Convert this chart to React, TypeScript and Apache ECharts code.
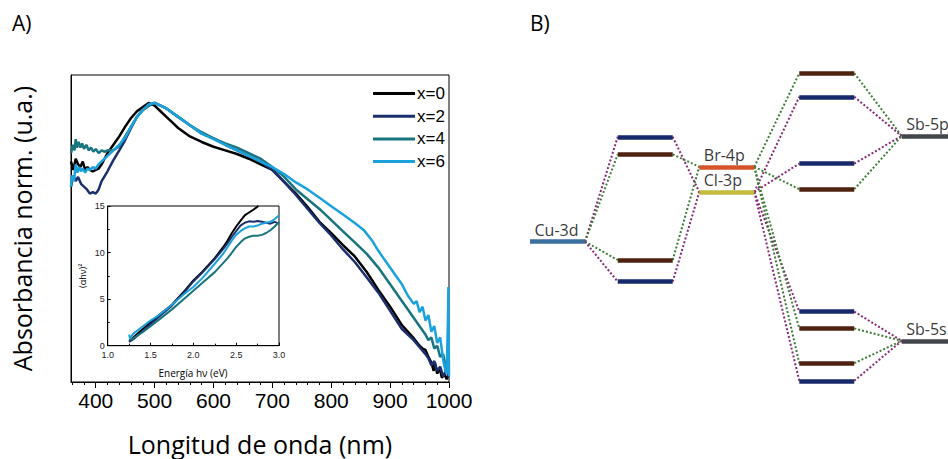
import React, { useEffect, useRef } from "react";
import * as echarts from "echarts";

// ---------- Panel A: main absorbance spectra (wavelength nm, normalized absorbance) ----------
const seriesNames = ["x=0", "x=2", "x=4", "x=6"];
const seriesColors = ["#000000", "#1b2f6e", "#18747e", "#1ba1dc"];

const absX0 = [
  [358, 0.79], [362, 0.76], [366, 0.8], [370, 0.78], [374, 0.77], [378, 0.79], [382, 0.76], [386, 0.77],
  [390, 0.76], [395, 0.755], [400, 0.76], [405, 0.765], [410, 0.78], [415, 0.8], [420, 0.82], [430, 0.85],
  [440, 0.88], [450, 0.915], [460, 0.946], [470, 0.97], [480, 0.985], [490, 1.0], [500, 0.99], [510, 0.97],
  [520, 0.95], [530, 0.93], [540, 0.91], [550, 0.895], [560, 0.88], [580, 0.86], [600, 0.843], [620, 0.83],
  [640, 0.817], [660, 0.8], [680, 0.78], [700, 0.76], [720, 0.717], [740, 0.675], [760, 0.627], [780, 0.574],
  [800, 0.533], [820, 0.49], [840, 0.45], [860, 0.395], [880, 0.33], [900, 0.27], [920, 0.204], [940, 0.157],
  [950, 0.13], [955, 0.12], [960, 0.115], [965, 0.09], [970, 0.07], [974, 0.04], [976, 0.07], [980, 0.03],
  [984, 0.05], [988, 0.015], [992, 0.03], [996, 0.01], [1000, 0.03],
];
const absX2 = [
  [358, 0.7], [362, 0.74], [366, 0.72], [370, 0.735], [375, 0.71], [380, 0.7], [385, 0.69], [390, 0.675],
  [395, 0.68], [400, 0.675], [405, 0.69], [410, 0.72], [420, 0.755], [430, 0.795], [440, 0.83], [450, 0.867],
  [460, 0.91], [470, 0.95], [480, 0.975], [490, 0.99], [500, 1.0], [510, 0.99], [520, 0.98], [540, 0.95],
  [560, 0.92], [580, 0.89], [600, 0.873], [620, 0.85], [640, 0.83], [660, 0.81], [680, 0.79], [700, 0.76],
  [720, 0.717], [740, 0.67], [760, 0.62], [780, 0.57], [800, 0.525], [820, 0.475], [840, 0.43], [860, 0.375],
  [880, 0.32], [900, 0.255], [920, 0.19], [940, 0.15], [950, 0.125], [960, 0.1], [965, 0.085], [970, 0.06],
  [975, 0.075], [980, 0.04], [985, 0.055], [990, 0.02], [995, 0.04], [1000, 0.02],
];
const absX4 = [
  [358, 0.82], [361, 0.85], [364, 0.83], [366, 0.87], [368, 0.84], [371, 0.86], [374, 0.84], [377, 0.855],
  [380, 0.835], [384, 0.85], [388, 0.83], [392, 0.84], [396, 0.825], [400, 0.835], [405, 0.82], [410, 0.83],
  [415, 0.825], [420, 0.83], [430, 0.83], [440, 0.845], [450, 0.88], [460, 0.915], [470, 0.95], [480, 0.975],
  [490, 0.99], [500, 1.0], [510, 0.99], [520, 0.98], [540, 0.95], [560, 0.92], [580, 0.895], [600, 0.873],
  [620, 0.855], [640, 0.84], [660, 0.82], [680, 0.8], [700, 0.77], [720, 0.735], [740, 0.69], [760, 0.655],
  [780, 0.62], [800, 0.58], [820, 0.54], [840, 0.5], [860, 0.46], [880, 0.41], [900, 0.35], [920, 0.29],
  [940, 0.23], [950, 0.2], [960, 0.17], [965, 0.15], [970, 0.16], [975, 0.12], [980, 0.13], [985, 0.09],
  [990, 0.1], [995, 0.05], [1000, 0.08],
];
const absX6 = [
  [358, 0.7], [360, 0.74], [363, 0.72], [366, 0.78], [369, 0.75], [372, 0.77], [375, 0.755], [378, 0.765],
  [382, 0.75], [386, 0.765], [390, 0.76], [395, 0.77], [400, 0.765], [405, 0.78], [410, 0.79], [420, 0.81],
  [430, 0.83], [440, 0.85], [450, 0.875], [460, 0.915], [470, 0.95], [480, 0.975], [490, 0.995], [500, 1.0],
  [510, 0.99], [520, 0.98], [540, 0.95], [560, 0.92], [580, 0.89], [600, 0.87], [620, 0.85], [640, 0.83],
  [660, 0.81], [680, 0.79], [700, 0.77], [720, 0.745], [740, 0.715], [760, 0.69], [780, 0.66], [800, 0.63],
  [820, 0.6], [840, 0.57], [855, 0.545], [870, 0.505], [880, 0.47], [890, 0.44], [900, 0.41], [910, 0.38],
  [920, 0.35], [930, 0.31], [940, 0.28], [945, 0.29], [950, 0.25], [955, 0.27], [960, 0.22], [965, 0.24],
  [970, 0.18], [975, 0.2], [980, 0.14], [985, 0.16], [990, 0.08], [994, 0.04], [996, 0.03], [998, 0.2],
  [999, 0.34], [1000, 0.02],
];
const mainData = [absX0, absX2, absX4, absX6];

const xMajorTicks = [400, 500, 600, 700, 800, 900, 1000];
const xMinorTicks = [360, 380, 420, 440, 460, 480, 520, 540, 560, 580, 620, 640, 660, 680, 720, 740, 760, 780, 820, 840, 860, 880, 920, 940, 960, 980];

// ---------- Inset: Tauc plot (energy eV, (αhν)²) ----------
const taucX0 = [
  [1.25, 0.5], [1.3, 0.9], [1.4, 1.7], [1.5, 2.5], [1.6, 3.3], [1.75, 4.4], [1.9, 5.9], [2.0, 7.0], [2.1, 7.9],
  [2.25, 9.4], [2.35, 10.6], [2.4, 11.3], [2.45, 12.1], [2.5, 12.8], [2.55, 13.4], [2.6, 14.0], [2.65, 14.3],
  [2.7, 14.6], [2.76, 15.0],
];
const taucX2 = [
  [1.25, 0.4], [1.3, 0.7], [1.4, 1.5], [1.5, 2.3], [1.6, 3.1], [1.75, 4.3], [1.9, 5.8], [2.0, 6.9], [2.1, 7.8],
  [2.25, 9.3], [2.35, 10.4], [2.4, 11.0], [2.45, 11.7], [2.5, 12.3], [2.55, 12.9], [2.6, 13.2], [2.65, 13.35],
  [2.7, 13.3], [2.75, 13.4], [2.8, 13.3], [2.85, 13.2], [2.9, 13.1], [2.95, 13.3], [3.0, 13.1],
];
const taucX4 = [
  [1.25, 0.6], [1.3, 0.8], [1.4, 1.4], [1.5, 2.1], [1.6, 2.8], [1.75, 3.9], [1.9, 5.1], [2.0, 5.9], [2.1, 6.7],
  [2.25, 7.9], [2.35, 8.9], [2.4, 9.4], [2.45, 10.0], [2.5, 10.6], [2.55, 11.1], [2.6, 11.5], [2.65, 11.7],
  [2.7, 11.8], [2.75, 11.8], [2.8, 11.9], [2.85, 12.1], [2.9, 12.4], [2.95, 12.8], [3.0, 13.3],
];
const taucX6 = [
  [1.25, 1.2], [1.26, 0.8], [1.3, 1.3], [1.4, 2.0], [1.5, 2.7], [1.6, 3.3], [1.75, 4.4], [1.9, 5.6], [2.0, 6.3],
  [2.1, 7.2], [2.25, 8.8], [2.35, 9.9], [2.4, 10.6], [2.45, 11.3], [2.5, 11.9], [2.55, 12.3], [2.6, 12.6],
  [2.65, 12.8], [2.7, 12.8], [2.75, 12.9], [2.8, 13.1], [2.85, 13.2], [2.9, 13.3], [2.95, 13.6], [3.0, 14.0],
];
const insetData = [taucX0, taucX2, taucX4, taucX6];

// ---------- Panel B: energy-level diagram ----------
const columnStart = [0, 1.595, 3.078, 4.896, 6.758]; // left end of each column (level width = 1)
const atomNames = ["Cu-3d", "Br-4p", "Cl-3p", "Sb-5p", "Sb-5s"];
const atomColumn = [0, 2, 2, 4, 4];
const atomEnergy = [3.96, 5.83, 5.2, 6.6, 1.48];
const atomColors = ["#3a6f9f", "#d4552a", "#c2bc3c", "#41464c", "#41464c"];

const moColumn = [1, 1, 1, 1, 3, 3, 3, 3, 3, 3, 3, 3];
const moEnergy = [6.58, 6.14, 3.5, 2.96, 8.17, 7.58, 5.91, 5.27, 2.21, 1.79, 0.92, 0.48];
const moHalide = ["Cl", "Br", "Br", "Cl", "Br", "Cl", "Cl", "Br", "Cl", "Br", "Br", "Cl"];
const moLeftAtom = [0, 0, 0, 0, 1, 2, 2, 1, 2, 1, 1, 2];
const moRightAtom = [2, 1, 1, 2, 3, 3, 3, 3, 4, 4, 4, 4];

const moColor: Record<string, string> = { Cl: "#17296b", Br: "#4f2210" };
const linkColor: Record<string, string> = { Cl: "#8a2878", Br: "#3d7d35" };

export default function App() {
  const ref = useRef<HTMLDivElement>(null);

  useEffect(() => {
    if (!ref.current) return;
    const chart = echarts.init(ref.current, undefined, { renderer: "svg" });

    const levelData: any[] = [];
    atomNames.forEach((n, i) => {
      const x0 = columnStart[atomColumn[i]];
      levelData.push({
        coords: [[x0, atomEnergy[i]], [x0 + 1, atomEnergy[i]]],
        lineStyle: { color: atomColors[i] },
      });
    });
    moEnergy.forEach((e, i) => {
      const x0 = columnStart[moColumn[i]];
      levelData.push({
        coords: [[x0, e], [x0 + 1, e]],
        lineStyle: { color: moColor[moHalide[i]] },
      });
    });

    const linkData: any[] = [];
    moEnergy.forEach((e, i) => {
      const x0 = columnStart[moColumn[i]];
      const la = moLeftAtom[i];
      const ra = moRightAtom[i];
      const c = linkColor[moHalide[i]];
      linkData.push({
        coords: [[columnStart[atomColumn[la]] + 1, atomEnergy[la]], [x0, e]],
        lineStyle: { color: c },
      });
      linkData.push({
        coords: [[x0 + 1, e], [columnStart[atomColumn[ra]], atomEnergy[ra]]],
        lineStyle: { color: c },
      });
    });

    const labelData = atomNames.map((n, i) => ({
      name: n,
      value: [columnStart[atomColumn[i]], atomEnergy[i]],
    }));

    const option: any = {
      animation: false,
      backgroundColor: "#ffffff",
      graphic: [
        { type: "text", left: 12, top: 12, style: { text: "A)", fontSize: 21, fontFamily: "Open Sans", fill: "#000" } },
        { type: "text", left: 530, top: 12, style: { text: "B)", fontSize: 21, fontFamily: "Open Sans", fill: "#000" } },
        {
          type: "text", x: 260, y: 444, z: 10,
          style: { text: "Longitud de onda (nm)", fontSize: 25, fontFamily: "Open Sans", fill: "#000", align: "center", verticalAlign: "middle" },
        },
        {
          type: "text", x: 193, y: 373, z: 10,
          style: { text: "Energía hν (eV)", fontSize: 10, fontFamily: "Open Sans", fill: "#000", align: "center", verticalAlign: "middle" },
        },
      ],
      legend: {
        data: seriesNames,
        orient: "vertical",
        left: 368,
        top: 80,
        icon: "rect",
        itemWidth: 42,
        itemHeight: 3,
        itemGap: 5.7,
        textStyle: { fontSize: 17, fontFamily: "Liberation Sans", color: "#000", padding: [0, 0, 0, -3] },
      },
      grid: [
        { left: 71, top: 75, width: 378, height: 307, show: true, borderColor: "#000", borderWidth: 1, backgroundColor: "transparent" },
        { left: 107.7, top: 206, width: 171.3, height: 139.7, show: true, borderColor: "#000", borderWidth: 1, backgroundColor: "#fff" },
        { left: 530, top: 0, width: 418, height: 400 },
      ],
      xAxis: [
        {
          gridIndex: 0, type: "value", min: 358, max: 1000,
          axisLine: { show: true, lineStyle: { color: "#000", width: 1 } },
          axisTick: { show: true, customValues: xMajorTicks, length: 6, lineStyle: { color: "#000" } },
          axisLabel: {
            customValues: xMajorTicks, fontSize: 21, fontFamily: "Liberation Sans", color: "#000", margin: 8,
            formatter: (v: number) => String(Math.round(v)),
          },
          splitLine: { show: false },
        },
        {
          gridIndex: 0, type: "value", min: 358, max: 1000, position: "bottom",
          axisLine: { show: false },
          axisTick: { show: true, customValues: xMinorTicks, length: 3, lineStyle: { color: "#000" } },
          axisLabel: { show: false },
          splitLine: { show: false },
        },
        {
          gridIndex: 1, type: "value", min: 1, max: 3, interval: 0.5,
          axisLine: { show: true, lineStyle: { color: "#000" } },
          axisTick: { show: true, inside: true, length: 3, lineStyle: { color: "#000" } },
          minorTick: { show: true, splitNumber: 2, length: 2, lineStyle: { color: "#000" } },
          axisLabel: { fontSize: 9, fontFamily: "Liberation Sans", color: "#222", margin: 5, formatter: (v: number) => v.toFixed(1) },
          splitLine: { show: false },
        },
        { gridIndex: 2, type: "value", min: 0, max: 7.6, show: false },
      ],
      yAxis: [
        {
          gridIndex: 0, type: "value", min: 0, max: 1.1,
          axisLine: { show: true, lineStyle: { color: "#000" } },
          axisTick: { show: false },
          axisLabel: { show: false },
          splitLine: { show: false },
          name: "Absorbancia norm. (u.a.)", nameLocation: "middle", nameGap: 37, nameMoveOverlap: false,
          nameTextStyle: { fontSize: 25, fontFamily: "Open Sans", color: "#000" },
        },
        {
          gridIndex: 1, type: "value", min: 0, max: 15, interval: 5,
          axisLine: { show: true, lineStyle: { color: "#000" } },
          axisTick: { show: true, inside: true, length: 3, lineStyle: { color: "#000" } },
          minorTick: { show: true, splitNumber: 2, length: 2, lineStyle: { color: "#000" } },
          axisLabel: { fontSize: 9, fontFamily: "Liberation Sans", color: "#222", margin: 3 },
          splitLine: { show: false },
          name: "(αhν)²", nameLocation: "middle", nameGap: 21, nameMoveOverlap: false,
          nameTextStyle: { fontSize: 9, fontFamily: "Open Sans", color: "#000" },
        },
        { gridIndex: 2, type: "value", min: 0, max: 10, show: false },
      ],
      series: [
        ...mainData.map((d, i) => ({
          name: seriesNames[i], type: "line", xAxisIndex: 0, yAxisIndex: 0, data: d,
          symbol: "none", lineStyle: { width: 2.5, color: seriesColors[i] }, itemStyle: { color: seriesColors[i] },
          clip: true,
        })),
        ...insetData.map((d, i) => ({
          name: seriesNames[i], type: "line", xAxisIndex: 2, yAxisIndex: 1, data: d,
          symbol: "none", lineStyle: { width: 2, color: seriesColors[i] }, itemStyle: { color: seriesColors[i] },
          clip: true, z: 5,
        })),
        {
          type: "lines", coordinateSystem: "cartesian2d", xAxisIndex: 3, yAxisIndex: 2,
          data: linkData, lineStyle: { width: 2, type: "dotted", opacity: 1, curveness: 0 }, z: 2,
        },
        {
          type: "lines", coordinateSystem: "cartesian2d", xAxisIndex: 3, yAxisIndex: 2,
          data: levelData, lineStyle: { width: 4.5, type: "solid", opacity: 1, curveness: 0 }, z: 3,
        },
        {
          type: "scatter", xAxisIndex: 3, yAxisIndex: 2, data: labelData, symbolSize: 1,
          itemStyle: { color: "rgba(0,0,0,0)" },
          label: {
            show: true, position: "right", distance: 0, offset: [4, -12],
            formatter: (p: any) => p.name, fontSize: 16, fontFamily: "Open Sans", color: "#000",
          },
          z: 4,
        },
      ],
    };

    chart.setOption(option);
    return () => chart.dispose();
  }, []);

  return (
    <div
      ref={ref}
      style={{ position: "fixed", left: 0, top: 0, width: 948, height: 459, background: "#fff", overflow: "hidden" }}
    />
  );
}
